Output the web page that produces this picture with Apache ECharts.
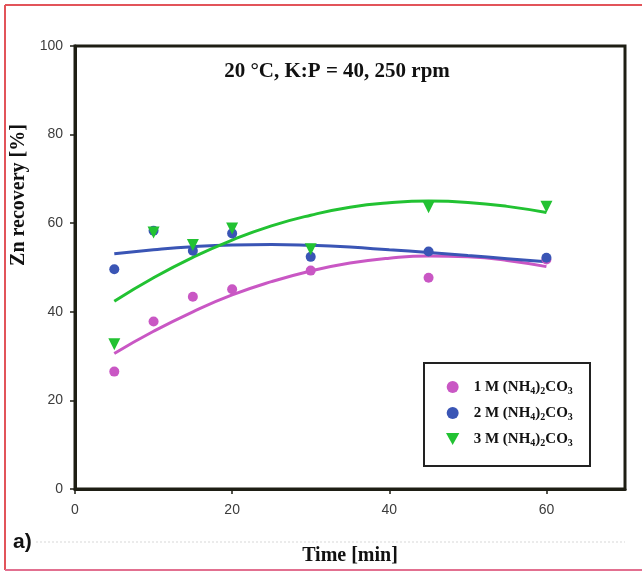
<!DOCTYPE html>
<html>
<head>
<meta charset="utf-8">
<script src="https://cdn.jsdelivr.net/npm/echarts@6/dist/echarts.min.js"></script>
<style>
  html, body { margin: 0; padding: 0; background: #fff; }
  #chart-container { width: 642px; height: 572px; }
</style>
</head>
<body>
<div id="chart-container"></div>
<script>
// measured points, [time min, Zn recovery %]
const seriesNames = ['1 M (NH4)2CO3', '2 M (NH4)2CO3', '3 M (NH4)2CO3'];
const points1M = [[5, 26.5], [10, 37.8], [15, 43.4], [20, 45.1], [30, 49.3], [45, 47.7], [60, 51.8]];
const points2M = [[5, 49.6], [10, 58.3], [15, 53.8], [20, 57.7], [30, 52.4], [45, 53.6], [60, 52.2]];
const points3M = [[5, 32.7], [10, 57.9], [15, 55.1], [20, 58.8], [30, 54.1], [45, 63.6], [60, 63.7]];

// trend lines
const trend1M = [[5, 30.6], [10, 35.6], [15, 40.0], [20, 43.8], [25, 46.8], [30, 49.2], [35, 51.0], [40, 52.1], [45, 52.6], [50, 52.4], [55, 51.6], [60, 50.2]];
const trend2M = [[5, 53.1], [10, 54.0], [15, 54.7], [20, 55.1], [25, 55.2], [30, 55.0], [35, 54.6], [40, 54.0], [45, 53.4], [50, 52.7], [55, 52.0], [60, 51.3]];
const trend3M = [[5, 42.4], [10, 47.7], [15, 52.3], [20, 56.2], [25, 59.4], [30, 61.8], [35, 63.6], [40, 64.6], [45, 65.0], [50, 64.7], [55, 63.8], [60, 62.4]];

const xTicks = { min: 0, max: 70, interval: 20 };
const yTicks = { min: 0, max: 100, interval: 20 };

const colors = ['#c957c4', '#3a55b5', '#22c232'];
const triangleDown = 'path://M0,0 L10,0 L5,9 Z';
const serif = '"Liberation Serif", "DejaVu Serif", serif';
const sans = '"Liberation Sans", Arial, sans-serif';

const dom = document.getElementById('chart-container');
const chart = echarts.init(dom, null, { renderer: 'canvas' });

const scatter = (name, data, color, symbol, size) => ({
  name: name,
  type: 'scatter',
  data: data,
  symbol: symbol,
  symbolSize: size,
  itemStyle: { color: color, opacity: 1 },
  z: 3,
});

const trend = (name, data, color) => ({
  name: name,
  type: 'line',
  data: data,
  smooth: true,
  showSymbol: false,
  lineStyle: { color: color, width: 3 },
  z: 2,
});

const option = {
  animation: false,
  grid: {
    left: 75, right: 17, top: 46, bottom: 83,
    show: true, borderColor: '#1e1e14', borderWidth: 3,
  },
  graphic: [
    { type: 'line', shape: { x1: 5, y1: 5, x2: 642, y2: 5 }, style: { stroke: '#e2545a', lineWidth: 2 } },
    { type: 'line', shape: { x1: 5, y1: 5, x2: 5, y2: 570 }, style: { stroke: '#e2545a', lineWidth: 2 } },
    { type: 'line', shape: { x1: 5, y1: 570, x2: 642, y2: 570 }, style: { stroke: '#e27090', lineWidth: 2 } },
    { type: 'line', shape: { x1: 36, y1: 542, x2: 625, y2: 542 }, style: { stroke: '#d8d8d8', lineWidth: 1, lineDash: [2, 2] } },
    {
      type: 'text', x: 13, y: 542,
      style: { text: 'a)', font: 'bold 21px ' + sans, fill: '#111', verticalAlign: 'middle' },
    },
    {
      type: 'text', x: 19, y: 195, rotation: Math.PI / 2,
      style: { text: 'Zn recovery [%]', font: 'bold 20px ' + serif, fill: '#111', align: 'center', verticalAlign: 'middle' },
    },
    {
      type: 'text', x: 337, y: 72,
      style: { text: '20 °C, K:P = 40, 250 rpm', font: 'bold 21px ' + serif, fill: '#111', align: 'center', verticalAlign: 'middle' },
    },
    {
      type: 'rect', shape: { x: 424, y: 363, width: 166, height: 103 },
      style: { fill: '#fff', stroke: '#222', lineWidth: 2 }, z: 10,
    },
  ],
  legend: {
    data: seriesNames,
    orient: 'vertical',
    left: 441, top: 374,
    itemGap: 9,
    itemWidth: 14, itemHeight: 12,
    z: 20,
    textStyle: {
      fontFamily: serif, fontWeight: 'bold', fontSize: 15, color: '#111',
      rich: {
        p: { width: 9 },
        n: { fontFamily: serif, fontWeight: 'bold', fontSize: 15, color: '#111', lineHeight: 18 },
        s: { fontFamily: serif, fontWeight: 'bold', fontSize: 10, color: '#111', verticalAlign: 'bottom', lineHeight: 12, padding: [7, 0, 0, 0] },
      },
    },
    formatter: (name) => {
      const m = name.match(/^(.*)\(NH4\)2CO3$/);
      return '{p|}{n|' + m[1] + '(NH}{s|4}{n|)}{s|2}{n|CO}{s|3}';
    },
  },
  xAxis: {
    type: 'value',
    min: xTicks.min, max: xTicks.max, interval: xTicks.interval,
    name: 'Time [min]',
    nameLocation: 'middle',
    nameGap: 57,
    nameTextStyle: { fontFamily: serif, fontWeight: 'bold', fontSize: 20, color: '#111' },
    splitLine: { show: false },
    axisLine: { lineStyle: { color: '#1e1e14', width: 3 } },
    axisTick: { length: 5, lineStyle: { color: '#1e1e14', width: 1.5 } },
    axisLabel: { showMaxLabel: false, margin: 14, fontFamily: sans, fontSize: 14, color: '#3c3c3c' },
  },
  yAxis: {
    type: 'value',
    min: yTicks.min, max: yTicks.max, interval: yTicks.interval,
    splitLine: { show: false },
    axisLine: { show: true, lineStyle: { color: '#1e1e14', width: 3 } },
    axisTick: { show: true, length: 5, lineStyle: { color: '#1e1e14', width: 1.5 } },
    axisLabel: { margin: 12, fontFamily: sans, fontSize: 14, color: '#3c3c3c' },
  },
  series: [
    trend('fit 1M', trend1M, colors[0]),
    trend('fit 2M', trend2M, colors[1]),
    trend('fit 3M', trend3M, colors[2]),
    scatter(seriesNames[0], points1M, colors[0], 'circle', 10),
    scatter(seriesNames[1], points2M, colors[1], 'circle', 10),
    scatter(seriesNames[2], points3M, colors[2], triangleDown, 12),
  ],
};

chart.setOption(option);
</script>
</body>
</html>
